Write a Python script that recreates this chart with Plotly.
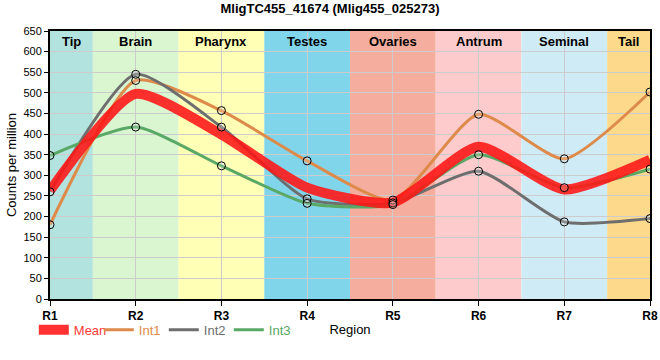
import plotly.graph_objects as go

categories = ["R1", "R2", "R3", "R4", "R5", "R6", "R7", "R8"]
regions = ["Tip", "Brain", "Pharynx", "Testes", "Ovaries", "Antrum", "Seminal", "Tail"]
region_colors = ["#b3e3de", "#d9f6d1", "#ffffb5", "#80d5eb", "#f5ae9e", "#fdcbcb", "#cfebf5", "#fdda8b"]

int1 = [180, 530, 457, 335, 240, 448, 340, 502]
int2 = [260, 545, 417, 243, 233, 310, 187, 195]
int3 = [348, 417, 323, 232, 229, 350, 270, 315]
mean = [round((a + b + c) / 3, 1) for a, b, c in zip(int1, int2, int3)]

series = [("Int1", int1, "#dd8a4a"), ("Int2", int2, "#6e6e6e"), ("Int3", int3, "#5aa866")]

fig = go.Figure()
smooth = 0.6
for name, vals, col in series:
    fig.add_trace(go.Scatter(
        x=categories, y=vals, mode="lines", line=dict(color=col, width=3, shape="spline", smoothing=smooth),
        name=f"<span style='color:{col}'>{name}</span>", legendrank=2, hoverinfo="skip"))
fig.add_trace(go.Scatter(
    x=categories, y=mean, mode="lines",
    line=dict(color="rgba(255,20,20,0.88)", width=10, shape="spline", smoothing=smooth),
    name="<span style='color:#ff3b3b'>Mean</span>", legendrank=1))
for name, vals, col in series:
    fig.add_trace(go.Scatter(
        x=categories, y=vals, mode="markers", showlegend=False,
        marker=dict(size=8, color="rgba(255,255,255,0.2)", line=dict(color="black", width=1))))

shapes = []
annotations = []
for i, (reg, col) in enumerate(zip(regions, region_colors)):
    x0 = max(i - 0.5, 0)
    x1 = min(i + 0.5, len(categories) - 1)
    shapes.append(dict(type="rect", xref="x", yref="paper", x0=x0, x1=x1, y0=0, y1=1,
                       fillcolor=col, line=dict(width=0), layer="below"))
    annotations.append(dict(x=(x0 + x1) / 2, y=1, xref="x", yref="paper", yanchor="top", yshift=-1,
                            text=f"<b>{reg}</b>", showarrow=False,
                            font=dict(size=13, color="black")))

fig.update_layout(
    width=660, height=360,
    margin=dict(l=50, r=10, t=31, b=61, autoexpand=False),
    paper_bgcolor="white", plot_bgcolor="white",
    font=dict(family="Liberation Sans, Arial, sans-serif", color="black", size=12),
    title=dict(text="<b>MligTC455_41674 (Mlig455_025273)</b>", x=0.5, xanchor="center",
               y=0.988, yanchor="top", font=dict(size=13), automargin=False),
    shapes=shapes, annotations=annotations,
    legend=dict(orientation="h", x=-0.027, xanchor="left", y=-0.115, yanchor="middle",
                font=dict(size=13), itemwidth=30, bgcolor="rgba(0,0,0,0)",
                entrywidth=20, entrywidthmode="pixels"),
    showlegend=True,
)
fig.update_xaxes(
    range=[0, 7], tickvals=categories, ticktext=[f"<b>{c}</b>" for c in categories],
    showgrid=True, gridcolor="#cccccc", gridwidth=1, automargin=False,
    showline=True, linecolor="black", linewidth=2, mirror=True,
    ticks="outside", ticklen=5, tickcolor="black", tickfont=dict(size=12),
    title=dict(text="Region", standoff=2, font=dict(size=13)), zeroline=False)
fig.update_yaxes(
    range=[0, 650], dtick=50, showgrid=True, gridcolor="#cccccc", gridwidth=1, automargin=False,
    showline=True, linecolor="black", linewidth=2, mirror=True,
    ticks="outside", ticklen=4, tickcolor="black", tickfont=dict(size=11),
    title=dict(text="Counts per million", standoff=4, font=dict(size=13)), zeroline=False)

fig.write_html("out.html", config={"displayModeBar": False},
               post_script="document.body.style.margin='0px';")
